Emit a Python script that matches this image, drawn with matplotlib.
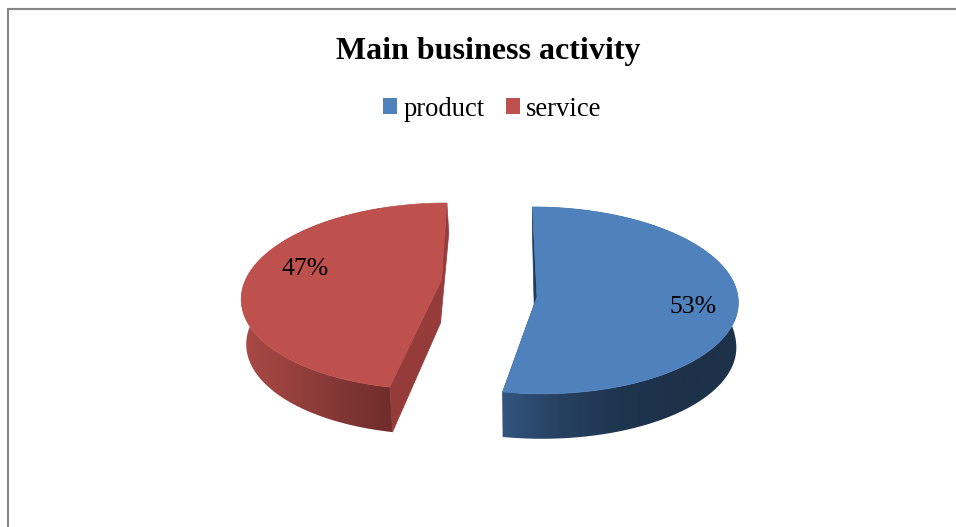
"""
Exploded 3D-style pie chart of the main business activity.
Output : out.png
"""

import numpy as np
import matplotlib
matplotlib.use("Agg")
import matplotlib.pyplot as plt
from matplotlib.colors import LinearSegmentedColormap
from matplotlib.patches import Patch, Polygon


# ─── Data ─────────────────────────────────────────────────────────────────────
CATEGORIES = ["product", "service"]
SHARES     = [53, 47]
TITLE      = "Main business activity"

# ─── Settings ─────────────────────────────────────────────────────────────────
WIDTH, HEIGHT = 956, 527
DPI           = 100
FONT          = "Liberation Serif"
FACE_COLORS   = ["#4F81BD", "#BE504D"]
BORDER_COLOR  = "#868686"
CUT_COLORS    = ["#1F3A5C", "#953B39"]
# outer wall shading, left to right
WALL_COLORS   = [["#32547E", "#26405F", "#1E3550", "#1D3149", "#1D3149"],
                 ["#AB4A47", "#9C4340", "#8C3C39", "#7D3432", "#702D2B"]]

# one projected disc per slice, in pixels
#   cx, cy : slice apex     rx, ry : disc radii     k : perspective     lean : x shear
SLICE_GEOM = [
    dict(cx=537, cy=297, rx=201, ry=93.3, k=0.036, lean=0.05,
         wall_x0=503, wall_x1=739, dx=0, scale=0.99, apex_drop=(-2, 43)),
    dict(cx=441.5, cy=280, rx=196, ry=90.4, k=0.174, lean=-0.07,
         wall_x0=241, wall_x1=392, dx=2, scale=0.985, apex_drop=(-1, 43)),
]
LABEL_POS = [(693, 307), (305, 269)]


def rim_points(theta, g):
    """Top rim of a slice; theta runs clockwise from north, in radians."""
    c, s = np.cos(theta), np.sin(theta)
    d = 1 + g["k"] * c
    dy = -g["ry"] * c / d
    dx = g["rx"] * s / d + g["lean"] * dy
    return g["cx"] + dx, g["cy"] + dy


def lower_rim(theta, g):
    """Bottom rim: slightly narrower than the top one, with less drop at the back."""
    x, y = rim_points(theta, g)
    depth = 45 - 15 * np.clip(np.cos(theta), 0, 1)
    x = g["cx"] + (x - g["cx"]) * g["scale"] + g["dx"]
    return x, y + depth


def draw_slice(ax, start, end, g, face, cut, wall):
    theta = np.linspace(start, end, 300)
    top_x, top_y = rim_points(theta, g)
    low_x, low_y = lower_rim(theta, g)
    apex_low = (g["cx"] + g["apex_drop"][0], g["cy"] + g["apex_drop"][1])

    # cut faces running in to the apex
    for i in (0, -1):
        ax.add_patch(Polygon([(top_x[i], top_y[i]), (g["cx"], g["cy"]), apex_low,
                              (low_x[i], low_y[i])],
                             closed=True, fc=cut, ec=cut, lw=0.5, zorder=1))

    # outer wall, shaded horizontally through a clipped image
    outline = np.column_stack([np.r_[top_x, low_x[::-1]], np.r_[top_y, low_y[::-1]]])
    clip = Polygon(outline, closed=True, transform=ax.transData, fc="none", ec="none")
    ax.add_patch(clip)
    cmap = LinearSegmentedColormap.from_list("wall", wall)
    img = ax.imshow(np.linspace(0, 1, 256)[None, :], cmap=cmap, aspect="auto",
                    extent=(g["wall_x0"], g["wall_x1"], HEIGHT, 0), zorder=2)
    img.set_clip_path(clip)

    # top face
    ax.add_patch(Polygon(np.column_stack([np.r_[g["cx"], top_x], np.r_[g["cy"], top_y]]),
                         closed=True, fc=face, ec=face, lw=0.5, zorder=3))


# ─── Plot ─────────────────────────────────────────────────────────────────────
fig = plt.figure(figsize=(WIDTH / DPI, HEIGHT / DPI), dpi=DPI)
ax = fig.add_axes([0, 0, 1, 1])

fracs = np.array(SHARES) / sum(SHARES)
edges = np.r_[0, np.cumsum(fracs)] * 2 * np.pi

for i, g in enumerate(SLICE_GEOM):
    draw_slice(ax, edges[i], edges[i + 1], g, FACE_COLORS[i], CUT_COLORS[i], WALL_COLORS[i])
    ax.text(LABEL_POS[i][0], LABEL_POS[i][1], f"{SHARES[i]}%", family=FONT, fontsize=18.5,
            color="black", ha="center", va="center", zorder=5)

ax.set_xlim(0, WIDTH)
ax.set_ylim(HEIGHT, 0)
ax.axis("off")

# chart frame: only the top and left edges fall inside the canvas
ax.plot([8, 8, WIDTH], [HEIGHT, 9, 9], color=BORDER_COLOR, lw=1.5,
        solid_joinstyle="miter", zorder=6)

ax.text(488, 52, TITLE, family=FONT, fontsize=23, fontweight="bold",
        ha="center", va="center", color="black")

handles = [Patch(fc=c, ec="none", label=n) for c, n in zip(FACE_COLORS, CATEGORIES)]
ax.legend(handles=handles, ncol=2, loc="center", bbox_to_anchor=(492.5, 109),
          bbox_transform=ax.transData, frameon=False, prop={"family": FONT, "size": 19.2},
          handlelength=0.53, handleheight=0.53, handletextpad=0.23, columnspacing=0.8,
          borderpad=0, borderaxespad=0)

fig.savefig("out.png", dpi=DPI)
